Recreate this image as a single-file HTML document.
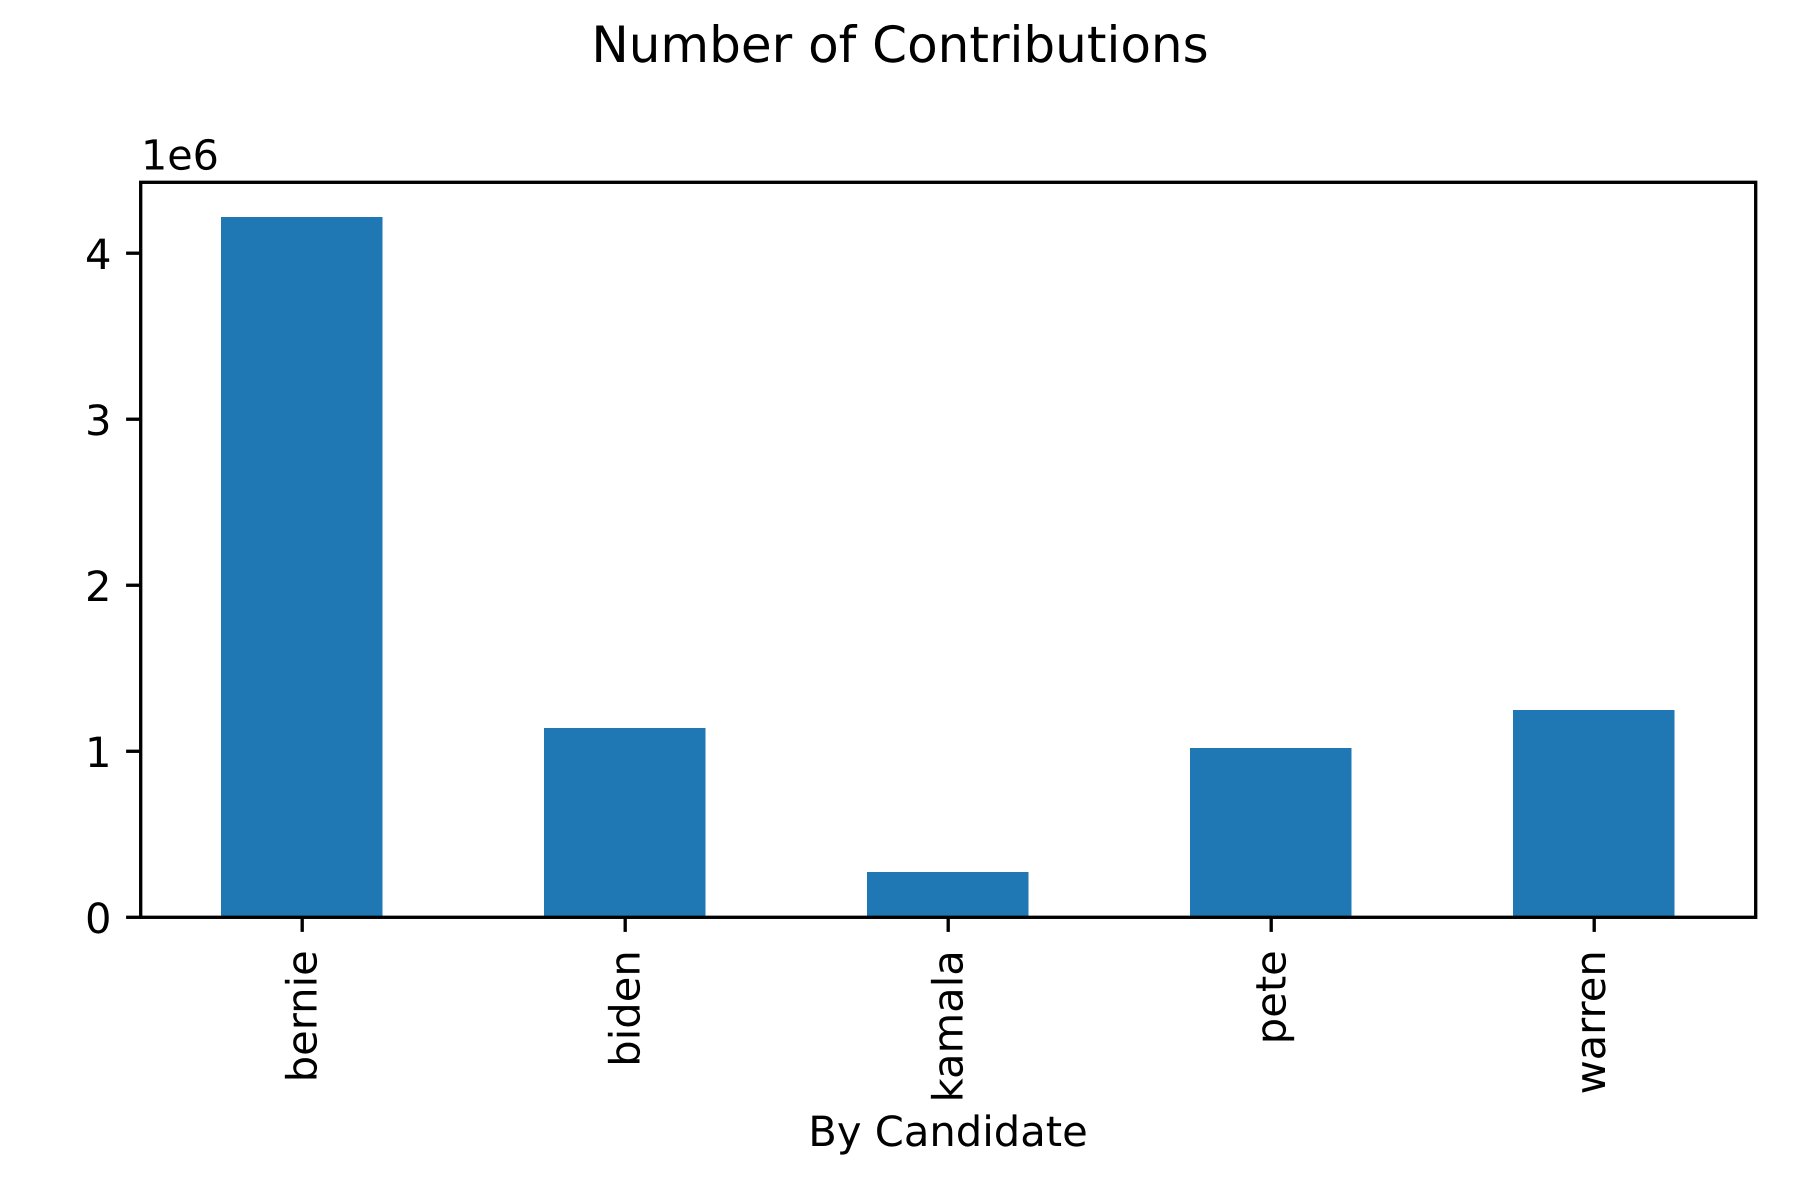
<!DOCTYPE html>
<html lang="en">
<head>
<meta charset="utf-8">
<title>Number of Contributions</title>
<style>
  html, body { margin: 0; padding: 0; background: #fff; }
  svg { display: block; }
  text { font-family: "DejaVu Sans", "Liberation Sans", sans-serif; fill: #000; text-rendering: geometricPrecision; }
</style>
</head>
<body>
<svg id="chart" xmlns="http://www.w3.org/2000/svg" width="1800" height="1200" viewBox="0 0 1800 1200">
  <rect x="0" y="0" width="1800" height="1200" fill="#ffffff"/>
  <text x="900" y="62" font-size="50" text-anchor="middle">Number of Contributions</text>
  <g id="bars" shape-rendering="crispEdges"></g>
  <g id="y-ticks"></g>
  <g id="x-ticks"></g>
  <rect x="140.7" y="182.3" width="1615" height="735" fill="none" stroke="#000" stroke-width="3.33"/>
  <text x="141" y="169.3" font-size="41.3">1e6</text>
  <text x="948" y="1146" font-size="41.67" text-anchor="middle">By Candidate</text>
</svg>
<script>
const categories = ["bernie", "biden", "kamala", "pete", "warren"];
const contributions = [4219000, 1140000, 273000, 1020000, 1249000];
const yTickValues = [0, 1000000, 2000000, 3000000, 4000000];
const yTickLabels = ["0", "1", "2", "3", "4"];
const yMax = 4427000;
const barWidthUnits = 0.5;

const NS = "http://www.w3.org/2000/svg";
const plotLeft = 140.7, plotRight = 1755.7, plotTop = 182.3, plotBottom = 917.3;
const tickLen = 14.6;
const xLabelTop = 950.2;

function xScale(i) {
  return plotLeft + (i + 0.5) * (plotRight - plotLeft) / categories.length;
}
function yScale(v) {
  return plotBottom - (v / yMax) * (plotBottom - plotTop);
}
// Matplotlib centres rotated labels on their ink box, so the baseline offset
// depends on whether the word has ascenders/descenders.
function labelOffset(name) {
  return /[bdhklpt]/.test(name) ? 14.4 : 10.8;
}

const barsGroup = document.getElementById("bars");
const yGroup = document.getElementById("y-ticks");
const xGroup = document.getElementById("x-ticks");
const unit = (plotRight - plotLeft) / categories.length;

categories.forEach(function (name, i) {
  const bar = document.createElementNS(NS, "rect");
  
  
  const w = barWidthUnits * unit;
  bar.setAttribute("x", xScale(i) - w / 2 - 0.45);
  bar.setAttribute("width", w);
  bar.setAttribute("y", yScale(contributions[i]));
  bar.setAttribute("height", plotBottom - yScale(contributions[i]));
  bar.setAttribute("fill", "#1f77b4");
  barsGroup.appendChild(bar);

  const tick = document.createElementNS(NS, "line");
  
  
  tick.setAttribute("x1", xScale(i));
  tick.setAttribute("x2", xScale(i));
  tick.setAttribute("y1", plotBottom);
  tick.setAttribute("y2", plotBottom + tickLen);
  tick.setAttribute("stroke", "#000");
  tick.setAttribute("stroke-width", "3.33");
  xGroup.appendChild(tick);

  const label = document.createElementNS(NS, "text");
  
  
  const lx = xScale(i) + labelOffset(name);
  const ly = xLabelTop;
  label.setAttribute("x", lx);
  label.setAttribute("y", ly);
  label.setAttribute("font-size", "41.67");
  label.setAttribute("text-anchor", "end");
  label.setAttribute("transform", "rotate(-90 " + lx + " " + ly + ")");
  label.textContent = name;
  xGroup.appendChild(label);
});

yTickValues.forEach(function (v, i) {
  const tick = document.createElementNS(NS, "line");
  
  
  tick.setAttribute("x1", plotLeft - tickLen);
  tick.setAttribute("x2", plotLeft);
  tick.setAttribute("y1", yScale(v));
  tick.setAttribute("y2", yScale(v));
  tick.setAttribute("stroke", "#000");
  tick.setAttribute("stroke-width", "3.33");
  yGroup.appendChild(tick);

  const label = document.createElementNS(NS, "text");
  
  
  label.setAttribute("x", plotLeft - tickLen - 14.6);
  label.setAttribute("y", yScale(v) + 15.6);
  label.setAttribute("font-size", "41.67");
  label.setAttribute("text-anchor", "end");
  label.textContent = yTickLabels[i];
  yGroup.appendChild(label);
});
</script>
</body>
</html>
